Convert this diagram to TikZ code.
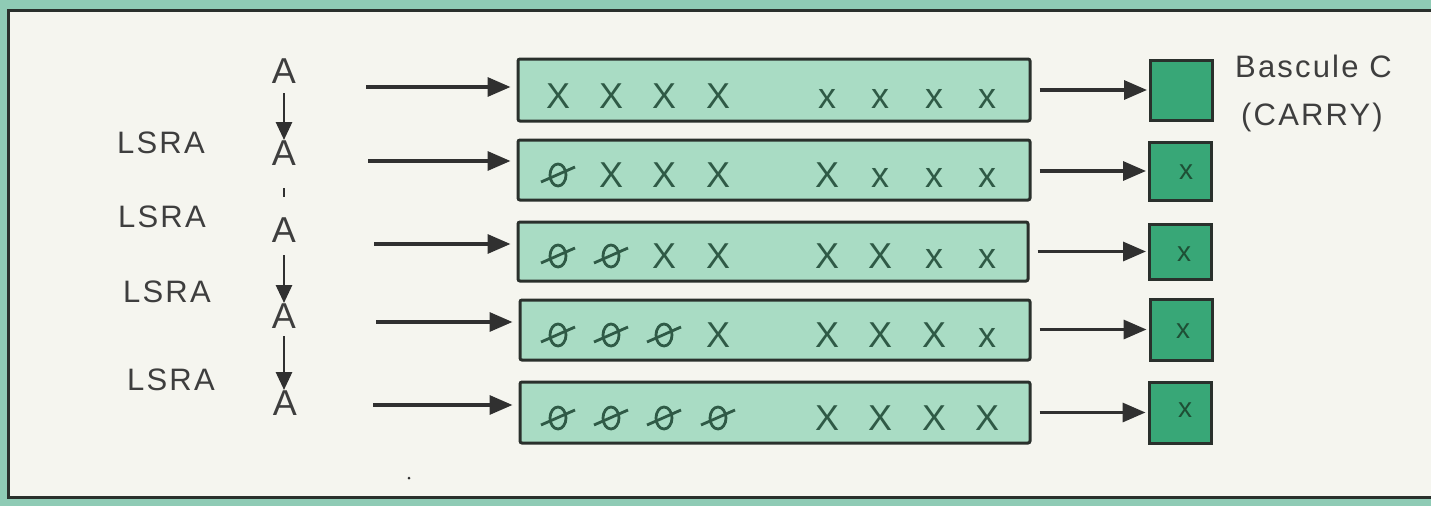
\documentclass[tikz,border=0pt]{standalone}
\usepackage{fontspec}
\setmainfont{Liberation Sans}
\usetikzlibrary{arrows.meta}
\definecolor{bgteal}{HTML}{8FCBB5}
\definecolor{panelc}{HTML}{F5F5EF}
\definecolor{bordc}{HTML}{2A302C}
\definecolor{regc}{HTML}{A9DCC4}
\definecolor{carryc}{HTML}{38A777}
\definecolor{bitc}{HTML}{2F5A46}
\definecolor{textc}{HTML}{3E3E3E}
\definecolor{arrowc}{HTML}{303030}
\definecolor{carrytext}{HTML}{1E4F35}
\tikzset{
  panel/.style={draw=bordc, line width=3pt, fill=panelc},
  reg/.style={draw=bordc, line width=3pt, fill=regc, rounded corners=2pt, inner sep=0pt},
  carrybox/.style={draw=bordc, line width=3pt, fill=carryc, inner sep=0pt, minimum width=62pt},
  lbl/.style={text=textc, font=\fontsize{31}{31}\selectfont\addfontfeatures{LetterSpace=7}, inner sep=0pt, anchor=base west},
  alabel/.style={text=textc, font=\fontsize{36}{36}\selectfont, inner sep=0pt, anchor=base},
  bitx/.style={text=bitc, font=\fontsize{36}{36}\selectfont, inner sep=0pt, anchor=base},
  carryx/.style={text=carrytext, font=\fontsize{28}{28}\selectfont, inner sep=0pt},
  conn/.style={draw=arrowc, line width=3.3pt, -{Triangle[length=23pt,width=19pt]}},
  vconn/.style={draw=arrowc, line width=2.8pt, -{Triangle[length=18pt,width=16pt]}},
  zerostroke/.style={draw=bitc, line width=2.8pt},
}
\begin{document}
\begin{tikzpicture}[x=1pt,y=-1pt]
\useasboundingbox (0,0) rectangle (1431,506);
\clip (0,0) rectangle (1431,506);
\fill[bgteal] (0,0) rectangle (1431,506);
\draw[panel] (8,10) rectangle (1450,497);

% registers
\node[reg, minimum width=512pt, minimum height=62pt] (r1) at (774,90) {};
\node[reg, minimum width=512pt, minimum height=60pt] (r2) at (774,170) {};
\node[reg, minimum width=510pt, minimum height=59pt] (r3) at (773,251.5) {};
\node[reg, minimum width=510pt, minimum height=60pt] (r4) at (775,330) {};
\node[reg, minimum width=510pt, minimum height=61pt] (r5) at (775,412.5) {};

% carry boxes
\node[carrybox, minimum height=60pt] (c1) at (1181.5,90) {};
\node[carrybox, minimum height=58pt] (c2) at (1180.5,171) {};
\node[carrybox, minimum height=55pt] (c3) at (1180.5,251.5) {};
\node[carrybox, minimum height=61pt] (c4) at (1181,329.5) {};
\node[carrybox, minimum height=61pt] (c5) at (1180,412.5) {};
\node[carryx] (k2) at (1186,172) {x};
\node[carryx] (k3) at (1184,254) {x};
\node[carryx] (k4) at (1183,331) {x};
\node[carryx] (k5) at (1185,410) {x};

% bits
\foreach \row/\by/\nz/\nbig in {1/108/0/4, 2/187/1/5, 3/268/2/6, 4/347/3/7, 5/430/4/8}{
  \foreach \c/\cx in {1/558,2/611,3/664,4/718,5/827,6/880,7/934,8/987}{
    \ifnum\c>\nz
      \ifnum\c>\nbig
        \node[bitx] (b\row\c) at (\cx,\by) {x};
      \else
        \node[bitx] (b\row\c) at (\cx,\by) {X};
      \fi
    \else
      \draw[zerostroke] (\cx,\by-12) ellipse [x radius=8, y radius=11];
      \draw[zerostroke] (\cx-17,\by-5) -- (\cx+17,\by-20);
    \fi
  }
}

% A column
\node[alabel] (a1) at (284,83) {A};
\node[alabel] (a2) at (284,165) {A};
\node[alabel] (a3) at (284,242) {A};
\node[alabel] (a4) at (284,328) {A};
\node[alabel] (a5) at (285,415) {A};
\draw[vconn, shorten <=10pt] (a1.south) -- (a2.north);
\draw[draw=arrowc, line width=2.8pt] (a2.south) ++(0,23) -- ++(0,9);
\draw[vconn, shorten <=13pt] (a3.south) -- (a4.north);
\draw[vconn, shorten <=8pt] (a4.south) -- (a4.south |- a5.north);

% LSRA labels
\node[lbl] (l1) at (117,153) {LSRA};
\node[lbl] (l2) at (118,227) {LSRA};
\node[lbl] (l3) at (123,302) {LSRA};
\node[lbl] (l4) at (127,390) {LSRA};

% input arrows
\coordinate (s1) at (366,87);
\coordinate (s2) at (368,161);
\coordinate (s3) at (374,244);
\coordinate (s4) at (376,322);
\coordinate (s5) at (373,405);
\foreach \i in {1,...,5}{
  \draw[conn, shorten >=6pt] (s\i) -- (r\i.west |- s\i);
}

% output arrows
\foreach \i in {1,...,5}{
  \draw[conn, shorten <=8pt, shorten >=2pt] (r\i.east |- c\i.west) -- (c\i.west);
}

% carry label
\node[lbl] (bc) at (1235,77) {Bascule C};
\node[lbl] (cy) at (1241,125) {(CARRY)};

% speck
\fill[arrowc] (409,478) circle (1.5);
\end{tikzpicture}
\end{document}
